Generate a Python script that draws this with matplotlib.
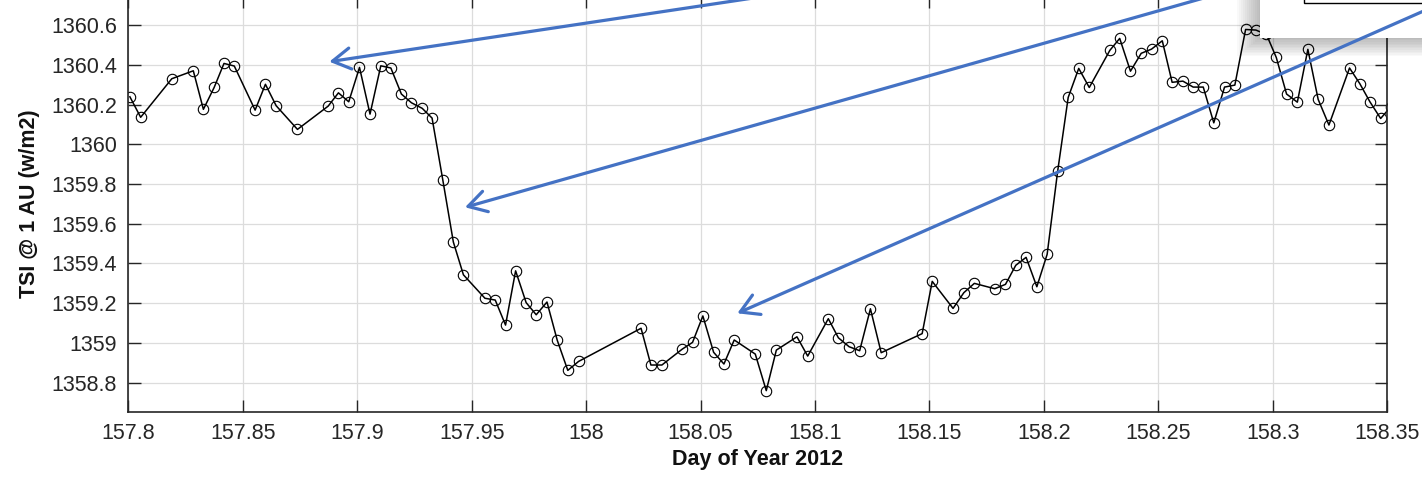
import matplotlib
matplotlib.use("Agg")
import matplotlib.pyplot as plt
from matplotlib.patches import Rectangle, FancyArrowPatch
from matplotlib.transforms import IdentityTransform

# TSI samples
day = [157.8007, 157.8054, 157.8190, 157.8284, 157.8328, 157.8375, 157.8418, 157.8463,
       157.8554, 157.8599, 157.8646, 157.8739, 157.8873, 157.8918, 157.8963, 157.9010,
       157.9056, 157.9103, 157.9147, 157.9193, 157.9237, 157.9284, 157.9327, 157.9374,
       157.9420, 157.9464, 157.9558, 157.9603, 157.9648, 157.9692, 157.9738, 157.9782,
       157.9829, 157.9874, 157.9920, 157.9967, 158.0240, 158.0283, 158.0331, 158.0420,
       158.0465, 158.0510, 158.0557, 158.0602, 158.0647, 158.0739, 158.0787, 158.0831,
       158.0921, 158.0968, 158.1058, 158.1102, 158.1149, 158.1195, 158.1242, 158.1289,
       158.1468, 158.1512, 158.1603, 158.1650, 158.1696, 158.1785, 158.1832, 158.1877,
       158.1922, 158.1969, 158.2014, 158.2060, 158.2106, 158.2152, 158.2198, 158.2288,
       158.2331, 158.2378, 158.2425, 158.2470, 158.2517, 158.2560, 158.2607, 158.2652,
       158.2696, 158.2742, 158.2789, 158.2834, 158.2881, 158.2926, 158.2972, 158.3015,
       158.3060, 158.3107, 158.3153, 158.3198, 158.3245, 158.3335, 158.3380, 158.3424,
       158.3471, 158.3516]
tsi = [1360.239, 1360.136, 1360.330, 1360.370, 1360.176, 1360.286, 1360.407, 1360.394,
       1360.172, 1360.302, 1360.194, 1360.075, 1360.192, 1360.259, 1360.214, 1360.387,
       1360.152, 1360.395, 1360.384, 1360.253, 1360.209, 1360.181, 1360.132, 1359.820,
       1359.508, 1359.343, 1359.225, 1359.216, 1359.090, 1359.363, 1359.203, 1359.142,
       1359.206, 1359.013, 1358.862, 1358.907, 1359.074, 1358.889, 1358.889, 1358.969,
       1359.003, 1359.136, 1358.953, 1358.894, 1359.015, 1358.944, 1358.760, 1358.964,
       1359.031, 1358.934, 1359.122, 1359.026, 1358.981, 1358.961, 1359.172, 1358.951,
       1359.047, 1359.310, 1359.174, 1359.253, 1359.300, 1359.273, 1359.295, 1359.391,
       1359.431, 1359.283, 1359.446, 1359.865, 1360.236, 1360.382, 1360.286, 1360.473,
       1360.533, 1360.368, 1360.458, 1360.479, 1360.521, 1360.312, 1360.318, 1360.288,
       1360.288, 1360.108, 1360.288, 1360.298, 1360.578, 1360.575, 1360.553, 1360.437,
       1360.253, 1360.212, 1360.478, 1360.226, 1360.097, 1360.384, 1360.305, 1360.214,
       1360.130, 1360.190]

xticks = [157.8, 157.85, 157.9, 157.95, 158.0, 158.05, 158.1, 158.15, 158.2, 158.25, 158.3, 158.35]
xlabels = ["157.8", "157.85", "157.9", "157.95", "158", "158.05", "158.1", "158.15",
           "158.2", "158.25", "158.3", "158.35"]
yticks = [1358.8, 1359.0, 1359.2, 1359.4, 1359.6, 1359.8, 1360.0, 1360.2, 1360.4, 1360.6]
ylabels = ["1358.8", "1359", "1359.2", "1359.4", "1359.6", "1359.8", "1360", "1360.2",
           "1360.4", "1360.6"]

W, H = 1422, 483
plt.rcParams['font.family'] = ['Liberation Sans', 'DejaVu Sans']
fig = plt.figure(figsize=(W / 100, H / 100), dpi=100)
ax = fig.add_axes([128.3 / W, (H - 411.7) / H, (1387.3 - 128.3) / W, (411.7 + 5) / H])

ax.plot(day, tsi, color='black', lw=1.1, marker='o', ms=7.5, mfc='none', mec='black', mew=0.8)

ax.set_xlim(157.8, 158.35)
ax.set_ylim(1358.654, 1360.7515)
ax.set_xticks(xticks)
ax.set_xticklabels(xlabels)
ax.set_yticks(yticks)
ax.set_yticklabels(ylabels)
ax.tick_params(direction='in', length=9, width=1, top=True, right=True,
               labelsize=15.5, colors='#262626', pad=8)
ax.grid(True, color='#dcdcdc', lw=0.9)
ax.set_axisbelow(True)
for s in ax.spines.values():
    s.set_color('#262626')
    s.set_linewidth(1.2)

ax.set_xlabel("Day of Year 2012", fontsize=15.5, fontweight='bold', color='#111111', labelpad=4)
ax.set_ylabel("TSI @ 1 AU (w/m2)", fontsize=15.5, fontweight='bold', color='#111111', labelpad=8)

# cut-off legend box in the top-right corner, with a soft shadow
def fx(px):
    return px / W

def fy(py):
    return (H - py) / H

for i in range(12):
    off = 1 + i * 2.0
    fig.add_artist(Rectangle((fx(1260 - off), fy(38 + off * 0.8)), 1, 1, transform=fig.transFigure,
                             facecolor='black', edgecolor='none', alpha=0.022, zorder=5))
fig.add_artist(Rectangle((fx(1260), fy(38)), 1, 1, transform=fig.transFigure,
                         facecolor='white', edgecolor='none', zorder=6))
fig.add_artist(Rectangle((fx(1304), fy(3.3)), 1, 1, transform=fig.transFigure,
                         facecolor='white', edgecolor='black', lw=1.0, zorder=7))

# blue callout arrows (tail, head) in image pixels, drawn on top of everything
arrows = [((806.6, -10), (329.3, 61.7)),
          ((1232.0, -10), (465.0, 207.3)),
          ((1440.0, 3.8), (737.3, 313.3))]
for (x0, y0), (x1, y1) in arrows:
    fig.add_artist(FancyArrowPatch((x0, H - y0), (x1, H - y1), transform=IdentityTransform(),
                                   arrowstyle='->,head_length=0.65,head_width=0.38',
                                   color='#4472C4', lw=2.3, mutation_scale=20,
                                   shrinkA=0, shrinkB=0, zorder=10))

fig.savefig("out.png", dpi=100)
